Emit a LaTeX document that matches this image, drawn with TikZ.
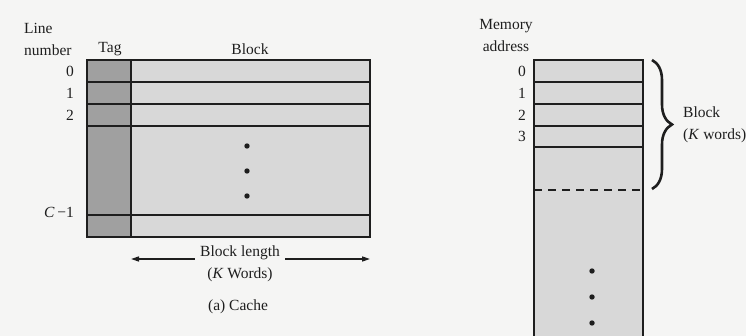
\documentclass[tikz,border=0pt]{standalone}
\usepackage{fontspec}
\setmainfont{Liberation Serif}
\usetikzlibrary{arrows.meta,positioning,calc,decorations.pathreplacing}
\definecolor{paper}{RGB}{245,245,244}
\definecolor{cellgray}{RGB}{216,216,216}
\definecolor{taggray}{RGB}{160,160,160}
\definecolor{ink}{RGB}{30,30,30}
\tikzset{
  >={Triangle[length=8pt,width=5pt]},
  lbl/.style={font=\fontsize{15.5}{22}\selectfont,text=ink,inner sep=0pt,align=center},
  num/.style={lbl,anchor=east},
  cellline/.style={draw=ink,line width=1.6pt},
  dashline/.style={draw=ink,line width=1.6pt,dash pattern=on 8pt off 6pt},
  dot/.style={fill=ink},
  lenarrow/.style={->,draw=ink,line width=1.5pt},
  bracket/.style={draw=ink,line width=2.6pt,decorate,decoration={brace,amplitude=20pt}},
}
\begin{document}
\begin{tikzpicture}[x=1pt,y=-1pt]
  \useasboundingbox[fill=paper] (0,0) rectangle (746,336);
  % cache
  \fill[taggray] (87,60) rectangle (131,237);
  \fill[cellgray] (131,60) rectangle (370,237);
  \draw[cellline] (87,60) rectangle (370,237);
  \draw[cellline] (131,60) -- (131,237);
  \foreach \y in {82,104,126,215} \draw[cellline] (87,\y) -- (370,\y);
  \foreach \y in {146,171,196} \fill[dot] (247,\y) circle (2.7);
  \node[lbl,align=left,anchor=west] (lnum) at (24,39) {Line\\number};
  \node[lbl] (tag) at (110,49) {Tag};
  \node[lbl] (blk) at (250,49) {Block};
  \foreach \n/\y in {0/71,1/93,2/115} \node[num] (c\n) at (74,\y) {\n};
  \node[num] (clast) at (74,212) {\textit{C}\,−1};
  % block length
  \coordinate (lenL) at (131,259);
  \coordinate (lenR) at (370,259);
  \node[lbl,inner xsep=5pt] (blen) at (240,264) {Block length\\(\textit{K} Words)};
  \draw[lenarrow] (blen.west |- lenL) -- (lenL);
  \draw[lenarrow] (blen.east |- lenR) -- (lenR);
  \node[lbl] (capA) at (238,307) {(a) Cache};
  % main memory
  \fill[cellgray] (534,60) rectangle (643,336);
  \draw[cellline] (534,336) -- (534,60) -- (643,60) -- (643,336);
  \foreach \y in {82,104,126,147} \draw[cellline] (534,\y) -- (643,\y);
  \draw[dashline] (534,190) -- (643,190);
  \foreach \y in {271,297,323} \fill[dot] (592,\y) circle (2.7);
  \node[lbl] (mem) at (506,36) {Memory\\address};
  \foreach \n/\y in {0/71,1/93,2/115,3/136} \node[num] (m\n) at (526,\y) {\n};
  % brace
  \coordinate (brTop) at (652,60);
  \coordinate (brBot) at (652,189);
  \draw[bracket] (brTop) -- (brBot);
  \node[lbl,align=left,anchor=west] (bword) at (683,125) {Block\\(\textit{K} words)};
\end{tikzpicture}
\end{document}
